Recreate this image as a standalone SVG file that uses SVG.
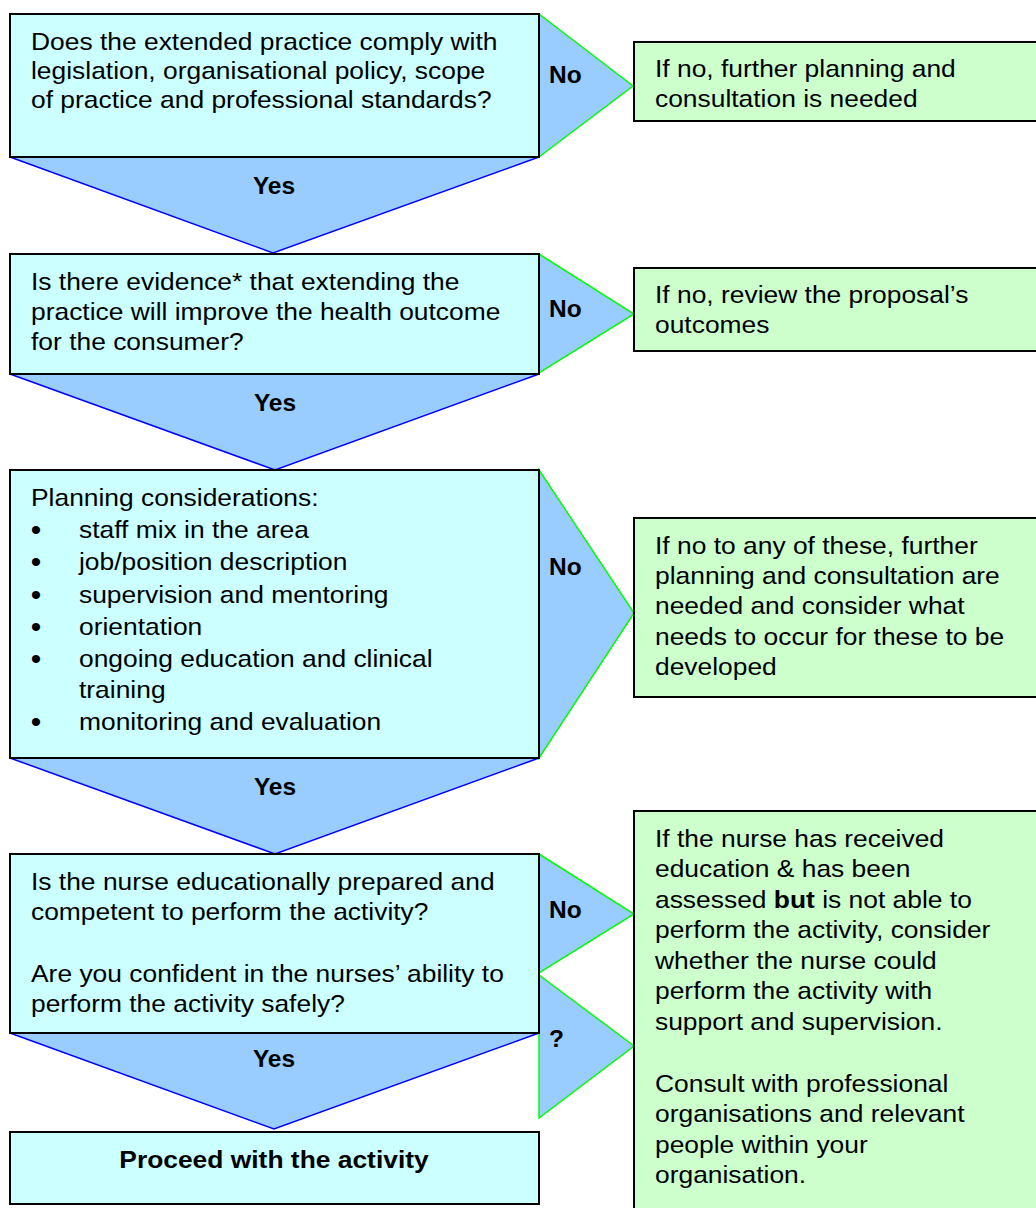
<svg xmlns="http://www.w3.org/2000/svg" width="1036" height="1208" viewBox="0 0 1036 1208">
<style>
  .q { fill: #CCFFFF; stroke: #000; stroke-width: 2; }
  .r { fill: #CCFFCC; stroke: #000; stroke-width: 2; }
  .yes { fill: #99CCFF; stroke: #0000FF; stroke-width: 1.5; }
  .no { fill: #99CCFF; stroke: #00FF00; stroke-width: 1.5; }
  .nb { fill: #99CCFF; stroke: none; }
  text { font-family: "Liberation Sans", Arial, sans-serif; font-size: 24px; fill: #000; }
  .b { font-weight: bold; }
  .lbl { font-weight: bold; font-size: 24.5px; }
  .c { text-anchor: middle; }
  .bul { font-size: 30px; text-anchor: middle; }
</style>
<rect width="1036" height="1208" fill="#fff"/>

<g id="connectors">
  <polygon class="nb" points="10,157 539,157 273,253"/>
  <polyline class="yes" fill="none" points="10,157 273,253 539,157"/>
  <polygon class="yes" points="10,374 539,374 275,470"/>
  <polygon class="yes" points="10,758 539,758 275,854"/>
  <polygon class="yes" points="10,1033 539,1033 274,1129"/>
  <polygon class="nb" points="539,14 633,86 539,157"/>
  <polyline class="no" fill="none" points="539,14 633,86 539,157"/>
  <polygon class="no" points="539,254 634,314 539,373"/>
  <polygon class="no" points="539,470 634,613 539,758"/>
  <polygon class="no" points="539,854 634,914 539,973"/>
  <polygon class="no" points="539,975 634,1046 539,1118"/>
  <text class="lbl c" x="274" y="194">Yes</text>
  <text class="lbl c" x="275" y="411">Yes</text>
  <text class="lbl c" x="275" y="795">Yes</text>
  <text class="lbl c" x="274" y="1067">Yes</text>
  <text class="lbl" x="549" y="83">No</text>
  <text class="lbl" x="549" y="317">No</text>
  <text class="lbl" x="549" y="575">No</text>
  <text class="lbl" x="549" y="918">No</text>
  <text class="lbl" x="549" y="1047">?</text>
</g>

<g id="q1">
  <rect class="q" x="10" y="14" width="529" height="143"/>
  <g transform="translate(31 0) scale(1.1 1)">
    <text x="0" y="50">Does the extended practice comply with</text>
    <text x="0" y="79">legislation, organisational policy, scope</text>
    <text x="0" y="108">of practice and professional standards?</text>
  </g>
</g>

<g id="q2">
  <rect class="q" x="10" y="254" width="529" height="120"/>
  <g transform="translate(31 0) scale(1.1 1)">
    <text x="0" y="290">Is there evidence* that extending the</text>
    <text x="0" y="320">practice will improve the health outcome</text>
    <text x="0" y="350">for the consumer?</text>
  </g>
</g>

<g id="q3">
  <rect class="q" x="10" y="470" width="529" height="288"/>
  <g transform="translate(31 0) scale(1.1 1)">
    <text x="0" y="506">Planning considerations:</text>
  </g>
  <text class="bul" x="36" y="540">•</text>
  <text class="bul" x="36" y="572">•</text>
  <text class="bul" x="36" y="605">•</text>
  <text class="bul" x="36" y="637">•</text>
  <text class="bul" x="36" y="669">•</text>
  <text class="bul" x="36" y="732">•</text>
  <g transform="translate(79 0) scale(1.1 1)">
    <text x="0" y="538">staff mix in the area</text>
    <text x="0" y="570">job/position description</text>
    <text x="0" y="603">supervision and mentoring</text>
    <text x="0" y="635">orientation</text>
    <text x="0" y="667">ongoing education and clinical</text>
    <text x="0" y="698">training</text>
    <text x="0" y="730">monitoring and evaluation</text>
  </g>
</g>

<g id="q4">
  <rect class="q" x="10" y="854" width="529" height="179"/>
  <g transform="translate(31 0) scale(1.1 1)">
    <text x="0" y="890">Is the nurse educationally prepared and</text>
    <text x="0" y="920">competent to perform the activity?</text>
    <text x="0" y="982">Are you confident in the nurses’ ability to</text>
    <text x="0" y="1012">perform the activity safely?</text>
  </g>
</g>

<g id="proceed">
  <rect class="q" x="10" y="1132" width="529" height="72"/>
  <g transform="translate(274 0) scale(1.1 1)">
    <text class="b c" x="0" y="1168">Proceed with the activity</text>
  </g>
</g>

<g id="r1">
  <rect class="r" x="634" y="42" width="406" height="79"/>
  <g transform="translate(655 0) scale(1.1 1)">
    <text x="0" y="77">If no, further planning and</text>
    <text x="0" y="107">consultation is needed</text>
  </g>
</g>

<g id="r2">
  <rect class="r" x="634" y="268" width="406" height="83"/>
  <g transform="translate(655 0) scale(1.1 1)">
    <text x="0" y="303">If no, review the proposal’s</text>
    <text x="0" y="333">outcomes</text>
  </g>
</g>

<g id="r3">
  <rect class="r" x="634" y="518" width="406" height="179"/>
  <g transform="translate(655 0) scale(1.1 1)">
    <text x="0" y="554">If no to any of these, further</text>
    <text x="0" y="584">planning and consultation are</text>
    <text x="0" y="614">needed and consider what</text>
    <text x="0" y="645">needs to occur for these to be</text>
    <text x="0" y="675">developed</text>
  </g>
</g>

<g id="r4">
  <rect class="r" x="634" y="811" width="406" height="400"/>
  <g transform="translate(655 0) scale(1.1 1)">
    <text x="0" y="847">If the nurse has received</text>
    <text x="0" y="877">education &amp; has been</text>
    <text x="0" y="908">assessed <tspan class="b">but</tspan> is not able to</text>
    <text x="0" y="938">perform the activity, consider</text>
    <text x="0" y="969">whether the nurse could</text>
    <text x="0" y="999">perform the activity with</text>
    <text x="0" y="1030">support and supervision.</text>
    <text x="0" y="1092">Consult with professional</text>
    <text x="0" y="1122">organisations and relevant</text>
    <text x="0" y="1153">people within your</text>
    <text x="0" y="1183">organisation.</text>
  </g>
</g>
</svg>
